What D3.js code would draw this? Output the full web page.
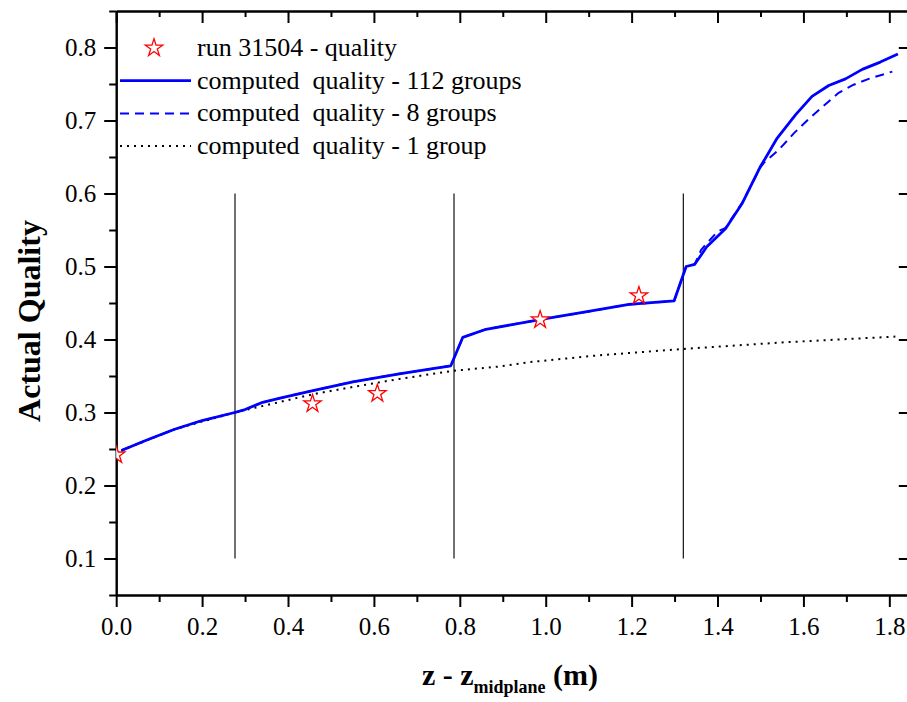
<!DOCTYPE html>
<html>
<head>
<meta charset="utf-8">
<script src="https://cdn.jsdelivr.net/npm/d3@7"></script>
<style>
body { margin: 0; background: #fff; }
svg text { font-family: "Liberation Serif", "Times New Roman", serif; }
</style>
</head>
<body>
<script>
const width = 907, height = 702;

// measured run 31504
const runZ = [0.0, 0.457, 0.608, 0.987, 1.217];
const runQ = [0.242, 0.312, 0.326, 0.427, 0.460];

// computed quality - 112 groups
const z112 = [0.012, 0.07, 0.136, 0.2, 0.276, 0.30, 0.341, 0.384, 0.458, 0.551, 0.659, 0.737, 0.779,
  0.807, 0.861, 0.993, 1.086, 1.194, 1.299, 1.327, 1.347, 1.375, 1.419, 1.458, 1.500, 1.539,
  1.582, 1.620, 1.659, 1.698, 1.737, 1.779, 1.820];
const q112 = [0.248, 0.262, 0.277, 0.289, 0.300, 0.304, 0.314, 0.320, 0.330, 0.342, 0.353, 0.360, 0.364,
  0.403, 0.414, 0.428, 0.437, 0.448, 0.453, 0.500, 0.503, 0.527, 0.552, 0.587, 0.637, 0.676,
  0.708, 0.733, 0.748, 0.757, 0.770, 0.780, 0.791];

// computed quality - 8 groups
const z8 = [0.012, 0.07, 0.136, 0.2, 0.276, 0.30, 0.341, 0.384, 0.458, 0.551, 0.659, 0.737, 0.779,
  0.807, 0.861, 0.993, 1.086, 1.194, 1.299, 1.327, 1.347, 1.362, 1.400, 1.419, 1.458, 1.500,
  1.508, 1.543, 1.577, 1.612, 1.647, 1.682, 1.717, 1.752, 1.807];
const q8 = [0.248, 0.262, 0.277, 0.289, 0.300, 0.304, 0.314, 0.320, 0.330, 0.342, 0.353, 0.360, 0.364,
  0.403, 0.414, 0.428, 0.437, 0.448, 0.453, 0.500, 0.503, 0.523, 0.548, 0.553, 0.588, 0.636,
  0.642, 0.660, 0.682, 0.702, 0.720, 0.738, 0.749, 0.757, 0.767];

// computed quality - 1 group
const z1 = [0.012, 0.136, 0.276, 0.458, 0.551, 0.659, 0.783, 0.892, 0.962, 1.117, 1.318, 1.551, 1.814];
const q1 = [0.248, 0.277, 0.300, 0.325, 0.335, 0.346, 0.357, 0.363, 0.369, 0.378, 0.387, 0.396, 0.404];

// spacer grid positions
const spacerZ = [0.2766, 0.7865, 1.3204];
const spacerQ = [0.1, 0.6];

const xMajor = d3.range(0, 1.81, 0.2);
const xMinor = d3.range(0.1, 1.85, 0.2);
const yMajor = d3.range(0.1, 0.81, 0.1);
const yMinor = d3.range(0.05, 0.86, 0.1);

const legendLabels = ["run 31504 - quality", "computed  quality - 112 groups",
  "computed  quality - 8 groups", "computed  quality - 1 group"];

const svg = d3.select("body").append("svg")
    .attr("width", width)
    .attr("height", height);

svg.append("rect").attr("width", width).attr("height", height).attr("fill", "#fff");

const x = d3.scaleLinear().domain([0, 1.85]).range([116.2, 910.8]);
const y = d3.scaleLinear().domain([0.05, 0.85]).range([595, 11]);

svg.append("defs").append("clipPath").attr("id", "plot")
    .append("rect")
    .attr("x", x(0)).attr("y", y(0.85))
    .attr("width", x(1.85) - x(0)).attr("height", y(0.05) - y(0.85));

const fmt = d3.format(".1f");

function styleAxis(g) {
    g.attr("font-family", "Liberation Serif, serif").attr("font-size", 25);
    g.selectAll("path, line").attr("stroke", "#000").attr("stroke-width", 2);
    g.selectAll("text").attr("fill", "#000");
}

// bottom
svg.append("g").attr("transform", `translate(0,${y(0.05)})`)
    .call(d3.axisBottom(x).tickValues(xMinor).tickSize(7).tickFormat("").tickSizeOuter(0))
    .call(styleAxis);
svg.append("g").attr("transform", `translate(0,${y(0.05)})`)
    .call(d3.axisBottom(x).tickValues(xMajor).tickSize(12).tickPadding(10).tickFormat(fmt).tickSizeOuter(0))
    .call(styleAxis);

// top
svg.append("g").attr("transform", `translate(0,${y(0.85)})`)
    .call(d3.axisTop(x).tickValues(xMinor).tickSize(-6).tickFormat("").tickSizeOuter(0))
    .call(styleAxis);
svg.append("g").attr("transform", `translate(0,${y(0.85)})`)
    .call(d3.axisTop(x).tickValues(xMajor).tickSize(-12).tickFormat("").tickSizeOuter(0))
    .call(styleAxis);

// left
svg.append("g").attr("transform", `translate(${x(0)},0)`)
    .call(d3.axisLeft(y).tickValues(yMinor).tickSize(7).tickFormat("").tickSizeOuter(0))
    .call(styleAxis);
svg.append("g").attr("transform", `translate(${x(0)},0)`)
    .call(d3.axisLeft(y).tickValues(yMajor).tickSize(12).tickPadding(8).tickFormat(fmt).tickSizeOuter(0))
    .call(styleAxis);

// right
svg.append("g").attr("transform", `translate(${x(1.85)},0)`)
    .call(d3.axisRight(y).tickValues(yMajor).tickSize(-12).tickFormat("").tickSizeOuter(0))
    .call(styleAxis);

// spacer lines
svg.append("g").selectAll("line")
    .data(spacerZ)
    .join("line")
    .attr("x1", d => x(d)).attr("x2", d => x(d))
    .attr("y1", y(spacerQ[0])).attr("y2", y(spacerQ[1]))
    .attr("stroke", "#111")
    .attr("stroke-width", 1.2);

const line = d3.line().x(d => x(d[0])).y(d => y(d[1]));
const plot = svg.append("g").attr("clip-path", "url(#plot)");

plot.append("path")
    .attr("d", line(d3.zip(z1, q1)))
    .attr("fill", "none").attr("stroke", "#000")
    .attr("stroke-width", 2).attr("stroke-dasharray", "2,5");

plot.append("path")
    .attr("d", line(d3.zip(z8, q8)))
    .attr("fill", "none").attr("stroke", "#0000ff")
    .attr("stroke-width", 2).attr("stroke-dasharray", "9,6");

plot.append("path")
    .attr("d", line(d3.zip(z112, q112)))
    .attr("fill", "none").attr("stroke", "#0000ff")
    .attr("stroke-width", 2.8).attr("stroke-linejoin", "round");

const star = d3.symbol(d3.symbolStar, 95);

plot.selectAll(".run-point")
    .data(d3.zip(runZ, runQ))
    .join("path")
    .attr("class", "run-point")
    .attr("transform", d => `translate(${x(d[0])},${y(d[1])})`)
    .attr("d", star)
    .attr("fill", "#fff")
    .attr("stroke", "#ff0000")
    .attr("stroke-width", 1.3);

// legend
const legend = svg.append("g");
const rowY = i => 48 + i * 32.7;
legendLabels.forEach((label, i) => {
    legend.append("text")
        .attr("x", 197).attr("y", rowY(i) + 8)
        .attr("font-size", 26)
        .style("white-space", "pre")
        .text(label);
});
legend.append("path")
    .attr("transform", `translate(154,${rowY(0)})`)
    .attr("d", star)
    .attr("fill", "#fff").attr("stroke", "#ff0000").attr("stroke-width", 1.3);
legend.append("line")
    .attr("x1", 120).attr("x2", 191).attr("y1", rowY(1)).attr("y2", rowY(1))
    .attr("stroke", "#0000ff").attr("stroke-width", 2.8);
legend.append("line")
    .attr("x1", 120).attr("x2", 191).attr("y1", rowY(2)).attr("y2", rowY(2))
    .attr("stroke", "#0000ff").attr("stroke-width", 2).attr("stroke-dasharray", "9,6");
legend.append("line")
    .attr("x1", 120).attr("x2", 191).attr("y1", rowY(3)).attr("y2", rowY(3))
    .attr("stroke", "#000").attr("stroke-width", 2).attr("stroke-dasharray", "2,5");

// axis titles
svg.append("text")
    .attr("transform", "translate(40,321) rotate(-90)")
    .attr("text-anchor", "middle")
    .attr("font-size", 32)
    .attr("font-weight", "bold")
    .text("Actual Quality");

const xt = svg.append("text")
    .attr("x", 510).attr("y", 685)
    .attr("text-anchor", "middle")
    .attr("font-size", 30)
    .attr("font-weight", "bold")
    .style("white-space", "pre");
xt.append("tspan").text("z - z");
xt.append("tspan").attr("font-size", 18).attr("dy", 8).text("midplane");
xt.append("tspan").attr("dy", -8).text(" (m)");
</script>
</body>
</html>
